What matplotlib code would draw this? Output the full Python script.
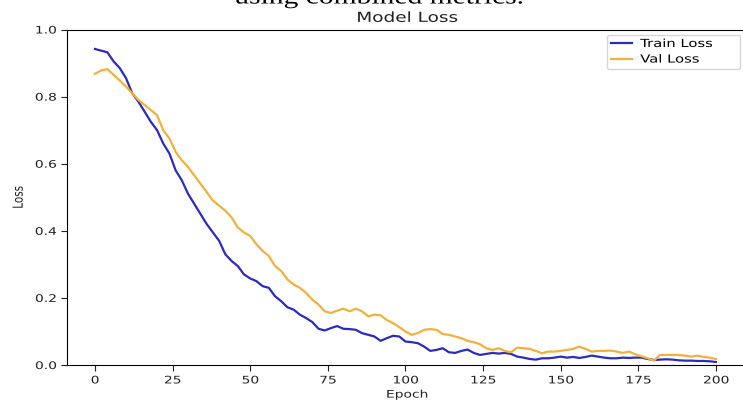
import numpy as np
import matplotlib
matplotlib.use('Agg')
import matplotlib.pyplot as plt
from matplotlib.patheffects import AbstractPathEffect
from matplotlib.transforms import Affine2D

# loss values, every 2nd epoch
epochs = np.arange(0, 201, 2)
train_loss = [
    0.942, 0.937, 0.932, 0.905, 0.885, 0.855, 0.810, 0.785, 0.755, 0.725,
    0.700, 0.660, 0.630, 0.580, 0.550, 0.510, 0.480, 0.450, 0.420, 0.395,
    0.370, 0.330, 0.310, 0.295, 0.270, 0.258, 0.250, 0.235, 0.230, 0.205,
    0.190, 0.172, 0.165, 0.150, 0.140, 0.128, 0.108, 0.103, 0.110, 0.116,
    0.108, 0.107, 0.105, 0.095, 0.090, 0.085, 0.072, 0.080, 0.087, 0.085,
    0.070, 0.068, 0.065, 0.055, 0.042, 0.045, 0.050, 0.038, 0.036, 0.042,
    0.046, 0.036, 0.030, 0.033, 0.036, 0.034, 0.036, 0.033, 0.025, 0.022,
    0.018, 0.016, 0.020, 0.020, 0.022, 0.025, 0.022, 0.024, 0.021, 0.024,
    0.028, 0.025, 0.022, 0.020, 0.020, 0.022, 0.021, 0.022, 0.022, 0.018,
    0.015, 0.016, 0.017, 0.016, 0.014, 0.013, 0.013, 0.012, 0.012, 0.011,
    0.009,
]
val_loss = [
    0.868, 0.878, 0.882, 0.865, 0.848, 0.830, 0.810, 0.790, 0.775, 0.760,
    0.745, 0.700, 0.675, 0.635, 0.610, 0.590, 0.565, 0.540, 0.515, 0.490,
    0.475, 0.460, 0.440, 0.410, 0.395, 0.385, 0.360, 0.340, 0.325, 0.295,
    0.280, 0.255, 0.240, 0.230, 0.215, 0.195, 0.180, 0.160, 0.155, 0.162,
    0.168, 0.160, 0.168, 0.160, 0.145, 0.150, 0.148, 0.134, 0.125, 0.113,
    0.100, 0.090, 0.095, 0.105, 0.107, 0.105, 0.092, 0.090, 0.085, 0.080,
    0.072, 0.068, 0.062, 0.050, 0.045, 0.050, 0.042, 0.038, 0.052, 0.050,
    0.048, 0.042, 0.035, 0.040, 0.040, 0.042, 0.045, 0.048, 0.055, 0.048,
    0.040, 0.042, 0.042, 0.043, 0.040, 0.036, 0.040, 0.032, 0.026, 0.020,
    0.013, 0.030, 0.030, 0.030, 0.030, 0.028, 0.025, 0.028, 0.024, 0.022,
    0.018,
]
x_ticks = [0, 25, 50, 75, 100, 125, 150, 175, 200]
y_ticks = [0.0, 0.2, 0.4, 0.6, 0.8, 1.0]

BLUE = '#2b2bbf'
GOLD = '#f0b23c'
SX = 1.33  # the source picture is squeezed wider than tall


class StretchX(AbstractPathEffect):
    """Widen text horizontally (display coords) around one of its edges."""

    def __init__(self, sx=SX, anchor='center'):
        super().__init__()
        self._sx = sx
        self._anchor = anchor

    def draw_path(self, renderer, gc, tpath, affine, rgbFace=None):
        if len(tpath.vertices) == 0:
            return
        xs = affine.transform(tpath.vertices)[:, 0]
        if self._anchor == 'left':
            x0 = xs.min()
        elif self._anchor == 'right':
            x0 = xs.max()
        else:
            x0 = (xs.min() + xs.max()) / 2
        st = Affine2D().translate(-x0, 0).scale(self._sx, 1).translate(x0, 0)
        renderer.draw_path(gc, tpath, affine + st, rgbFace)


def main():
    fig = plt.figure(figsize=(7.43, 4.01), dpi=100)
    ax = fig.add_axes([67 / 743, 1 - 365 / 401, 680 / 743, 335.5 / 401])

    ax.plot(epochs, train_loss, color=BLUE, lw=1.6, label='Train Loss')
    ax.plot(epochs, val_loss, color=GOLD, lw=1.6, label='Val Loss')

    ax.set_xlim(-9, 210)
    ax.set_ylim(0, 1.0)
    ax.set_xticks(x_ticks)
    ax.set_yticks(y_ticks)
    ax.tick_params(labelsize=7.5, colors='#222222', length=4)

    for lab in ax.get_xticklabels():
        lab.set_path_effects([StretchX()])
    for lab in ax.get_yticklabels():
        lab.set_path_effects([StretchX(anchor='right')])

    t = ax.set_title('Model Loss', fontsize=10, pad=5.5, color='#222222')
    t.set_path_effects([StretchX()])
    xl = ax.set_xlabel('Epoch', fontsize=7.5, labelpad=3, color='#222222')
    xl.set_path_effects([StretchX()])
    yl = ax.set_ylabel('Loss', fontsize=7.5, labelpad=12, color='#222222')
    yl.set_path_effects([StretchX()])

    leg = ax.legend(loc='upper right', bbox_to_anchor=(0.794, 0.87, 0.196, 0.115),
                    mode='expand', borderaxespad=0, fontsize=8,
                    handlelength=1.9, handletextpad=0.7)
    for txt in leg.get_texts():
        txt.set_path_effects([StretchX(anchor='left')])

    # caption of the paper figure above, mostly cut off
    cap = fig.text(0.51, 1 - 3.5 / 401, 'using combined metrics.',
                   ha='center', va='baseline', fontsize=16,
                   family='Liberation Serif', color='black')
    cap.set_path_effects([StretchX()])

    fig.savefig('out.png', dpi=100)


if __name__ == '__main__':
    main()
